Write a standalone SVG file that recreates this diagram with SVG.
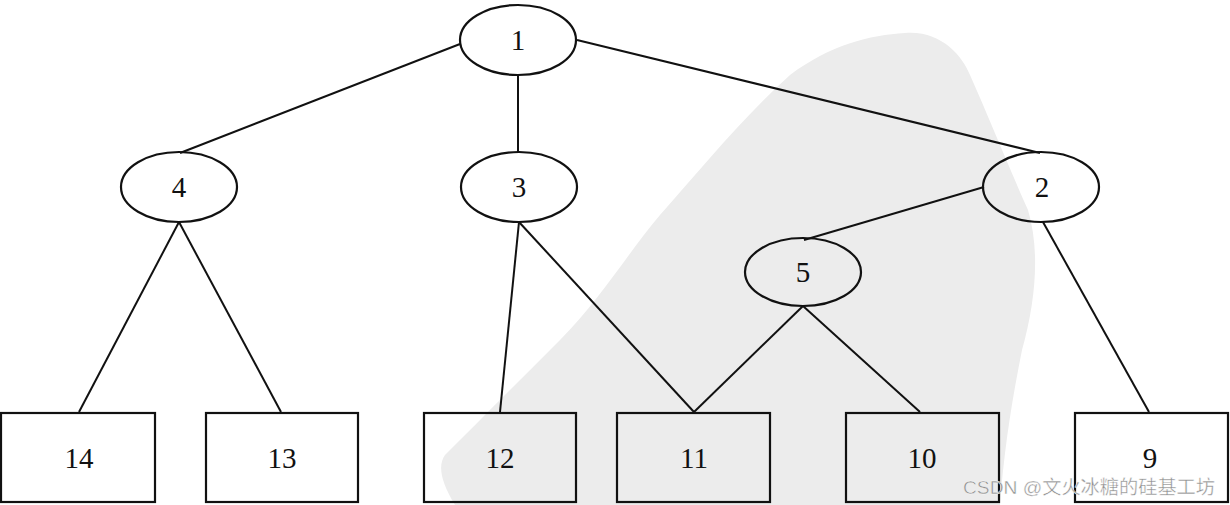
<svg xmlns="http://www.w3.org/2000/svg" width="1230" height="505" viewBox="0 0 1230 505">
<style>
.n{fill:none;stroke:#111;stroke-width:2.2}
.b{fill:none;stroke:#111;stroke-width:2.2}
.t{font-family:"Liberation Serif","Times New Roman",serif;font-size:29px;fill:#111;text-anchor:middle}
.e{stroke:#111;stroke-width:2;fill:none}
</style>
<rect width="1230" height="505" fill="#fff"/>
<path id="watermark" d="M905,33 C940,30 962,55 970,75 C990,120 1010,170 1028,210 C1040,250 1036,300 1022,350 C1012,400 1004,450 1000,505 L455,505 C440,480 438,465 445,455 C480,420 520,380 560,340 C600,300 630,250 660,215 C700,170 740,120 790,75 C830,45 870,35 905,33 Z" fill="#ececec"/>
<g id="connectors">
<line class="e" x1="460" y1="44" x2="180" y2="153"/>
<line class="e" x1="518" y1="75" x2="518" y2="153"/>
<line class="e" x1="577" y1="40" x2="1040" y2="153"/>
<line class="e" x1="984" y1="187" x2="804" y2="240"/>
<line class="e" x1="1043" y1="222" x2="1149" y2="412"/>
<line class="e" x1="179" y1="222" x2="79" y2="412"/>
<line class="e" x1="179" y1="222" x2="281" y2="412"/>
<line class="e" x1="519" y1="222" x2="500" y2="412"/>
<line class="e" x1="519" y1="222" x2="694" y2="412"/>
<line class="e" x1="803" y1="306" x2="694" y2="412"/>
<line class="e" x1="803" y1="306" x2="920" y2="412"/>
</g>
<g id="node1"><ellipse class="n" cx="518" cy="40" rx="58" ry="35"/><text class="t" x="518" y="50">1</text></g>
<g id="node4"><ellipse class="n" cx="179" cy="187" rx="58" ry="35"/><text class="t" x="179" y="197">4</text></g>
<g id="node3"><ellipse class="n" cx="519" cy="187" rx="58" ry="35"/><text class="t" x="519" y="197">3</text></g>
<g id="node2"><ellipse class="n" cx="1041" cy="187" rx="58" ry="35"/><text class="t" x="1042" y="197">2</text></g>
<g id="node5"><ellipse class="n" cx="803" cy="272" rx="58" ry="34"/><text class="t" x="803" y="282">5</text></g>
<g id="node14"><rect class="b" x="1" y="413" width="154" height="89"/><text class="t" x="79" y="468">14</text></g>
<g id="node13"><rect class="b" x="206" y="413" width="152" height="89"/><text class="t" x="282" y="468">13</text></g>
<g id="node12"><rect class="b" x="424" y="413" width="152" height="89"/><text class="t" x="500" y="468">12</text></g>
<g id="node11"><rect class="b" x="617" y="413" width="153" height="89"/><text class="t" x="694" y="468">11</text></g>
<g id="node10"><rect class="b" x="846" y="413" width="153" height="89"/><text class="t" x="922" y="468">10</text></g>
<g id="node9"><rect class="b" x="1075" y="413" width="153" height="89"/><text class="t" x="1150" y="468">9</text></g>
<text x="963" y="494" font-family="'Liberation Sans','Noto Sans CJK SC',sans-serif" font-size="19" textLength="252" lengthAdjust="spacingAndGlyphs" fill="#8f8f8f" stroke="#fff" stroke-width="0.4">CSDN @文火冰糖的硅基工坊</text>
</svg>
